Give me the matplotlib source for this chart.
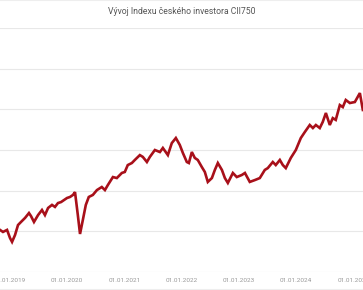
import matplotlib
matplotlib.use("Agg")
import matplotlib.pyplot as plt
import matplotlib.dates as mdates
import pandas as pd

TITLE = "Vývoj Indexu českého investora CII750"

# values (index points, approximate)
dates = [
    "2018-10-29", "2018-11-17", "2018-12-13", "2019-01-01", "2019-01-14",
    "2019-02-02", "2019-02-21", "2019-03-12", "2019-04-07", "2019-05-02",
    "2019-05-15", "2019-06-03", "2019-06-29", "2019-07-24", "2019-08-12",
    "2019-09-01", "2019-09-26", "2019-10-15", "2019-11-03", "2019-11-23",
    "2019-12-12", "2019-12-31", "2020-01-19", "2020-02-07", "2020-02-20",
    "2020-03-09", "2020-03-23", "2020-04-10", "2020-04-29", "2020-05-18",
    "2020-06-13", "2020-07-09", "2020-08-09", "2020-08-29", "2020-09-17",
    "2020-10-19", "2020-11-13", "2020-12-15", "2021-01-03", "2021-01-22",
    "2021-02-17", "2021-03-08", "2021-04-09", "2021-04-28", "2021-05-24",
    "2021-06-12", "2021-07-14", "2021-08-15", "2021-09-03", "2021-10-05",
    "2021-10-30", "2021-11-25", "2021-12-20", "2022-01-09", "2022-02-03",
    "2022-02-16", "2022-03-07", "2022-03-26", "2022-04-14", "2022-05-10",
    "2022-05-29", "2022-06-17", "2022-07-13", "2022-08-01", "2022-08-20",
    "2022-09-15", "2022-10-04", "2022-10-23", "2022-11-24", "2022-12-19",
    "2023-01-20", "2023-02-09", "2023-03-12", "2023-04-13", "2023-05-15",
    "2023-06-16", "2023-07-05", "2023-08-06", "2023-08-25", "2023-09-20",
    "2023-10-09", "2023-10-28", "2023-11-29", "2023-12-31", "2024-02-01",
    "2024-02-27", "2024-03-29", "2024-04-18", "2024-05-07", "2024-06-01",
    "2024-06-20", "2024-07-10", "2024-08-04", "2024-08-23", "2024-09-11",
    "2024-10-07", "2024-10-26", "2024-11-14", "2024-12-10", "2025-01-11",
    "2025-02-12", "2025-03-03",
]
values = [
    1007, 997, 1007, 967, 948,
    982, 1031, 1046, 1066, 1090,
    1075, 1046, 1080, 1105, 1080,
    1115, 1130, 1120, 1139, 1144,
    1154, 1164, 1169, 1179, 1193,
    1080, 987, 1056, 1130, 1169,
    1179, 1203, 1218, 1203, 1228,
    1267, 1262, 1287, 1292, 1326,
    1336, 1351, 1375, 1366, 1341,
    1366, 1400, 1390, 1410, 1375,
    1434, 1459, 1425, 1385, 1341,
    1336, 1390, 1361, 1351, 1316,
    1292, 1243, 1262, 1302, 1336,
    1302, 1262, 1238, 1287, 1267,
    1277, 1287, 1243, 1252, 1262,
    1302, 1311, 1341, 1326, 1351,
    1326, 1311, 1361, 1400, 1459,
    1489, 1523, 1508, 1523, 1508,
    1538, 1582, 1523, 1557, 1548,
    1621, 1611, 1646, 1631, 1636,
    1680, 1597,
]
year_ticks = ["2019-01-01", "2020-01-01", "2021-01-01", "2022-01-01",
              "2023-01-01", "2024-01-01", "2025-01-01"]
y_grid = [800, 1000, 1200, 1400, 1600, 1800, 2000]

x = pd.to_datetime(dates)

fig = plt.figure(figsize=(3.63, 2.90), dpi=100)
ax = fig.add_axes([0.0, 1 - 272 / 290, 1.0, (272 - 28) / 290])

ax.plot(x, values, color="#a8101a", lw=1.9, solid_joinstyle="miter")

ax.set_xlim(pd.Timestamp("2018-10-29"), pd.Timestamp("2025-03-04"))
ax.set_ylim(800, 2000)
ax.set_yticks(y_grid)
ax.set_yticklabels([])
ax.set_xticks(pd.to_datetime(year_ticks))
ax.xaxis.set_major_formatter(mdates.DateFormatter("%d.%m.%Y"))
ax.tick_params(axis="both", length=0)
ax.tick_params(axis="x", labelsize=4.6, labelcolor="#999999", pad=4.5)
for lab in ax.get_xticklabels():
    lab.set_family("Roboto")
ax.grid(axis="y", color="#e8e8e8", lw=0.8)
ax.set_axisbelow(True)
for s in ax.spines.values():
    s.set_visible(False)

fig.text(0.5, 1 - 12 / 290, TITLE, ha="center", va="center",
         fontsize=6.2, color="#555555", family="Roboto")
# thin frame lines at top and bottom of the picture
fig.add_artist(plt.Line2D([0, 1], [0.999, 0.999], color="#eeeeee", lw=0.8))
fig.add_artist(plt.Line2D([0, 1], [1 - 289 / 290, 1 - 289 / 290], color="#eeeeee", lw=0.8))

fig.savefig("out.png", dpi=100)
